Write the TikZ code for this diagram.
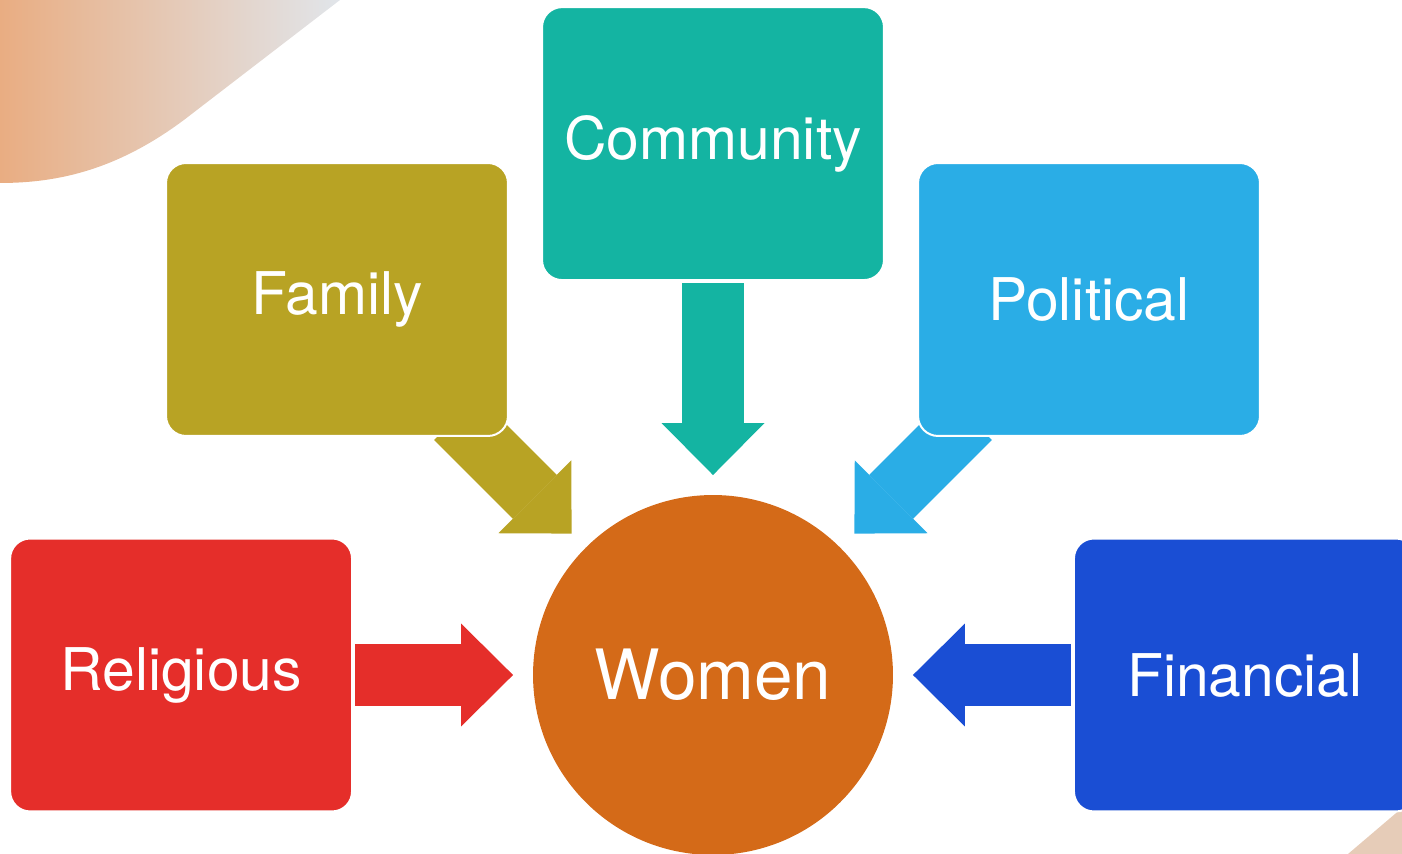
\documentclass[tikz,border=0pt]{standalone}
\usepackage{fontspec}
\setmainfont{TeX Gyre Heros}
\usepackage{tikz}
\usetikzlibrary{arrows.meta,positioning,backgrounds,calc}
\definecolor{PillarOlive}{HTML}{B8A324}
\definecolor{PillarTeal}{HTML}{14B4A2}
\definecolor{PillarSky}{HTML}{2AADE6}
\definecolor{PillarRed}{HTML}{E52E2A}
\definecolor{PillarBlue}{HTML}{1A4ED4}
\definecolor{WomenOrange}{HTML}{D46A18}
\definecolor{DecoPeach}{HTML}{E9AD82}
\definecolor{DecoMist}{HTML}{E1E5EA}
\definecolor{DecoSand}{HTML}{E6CCB8}
\tikzset{
  pillarbox/.style={draw=white,line width=0.04cm,rounded corners=0.4cm,minimum width=6.84cm,minimum height=5.46cm,outer sep=0pt,text=white,font=\fontsize{33.5}{40}\selectfont},
  womencircle/.style={circle,fill=WomenOrange,minimum size=7.2cm,inner sep=0pt,outer sep=0pt,text=white,font=\fontsize{39.5}{46}\selectfont},
  blockarrow/.style={line width=1.24cm,-{Triangle[length=1.04cm,width=2.06cm,line width=0pt]},shorten <=0.06cm,shorten >=0.4cm}
}

\begin{document}
\begin{tikzpicture}[x=0.02cm,y=0.02cm,node distance=3.62cm]
  \useasboundingbox (0,0) rectangle (1402,854);
  \shade[left color=DecoPeach,right color=DecoMist] (0,854) -- (340,854) -- (193,741)
    .. controls (122,685) and (60,671) .. (0,671) -- cycle;
  \fill[DecoSand] (1348,0) -- (1402,46) -- (1402,0) -- cycle;

  \node[womencircle] (women) at (713,179) {Women};
  \node[pillarbox,fill=PillarTeal,above=4.3cm of women] (comm) {Community};
  \node[pillarbox,fill=PillarRed,left=of women] (rel) {Religious};
  \node[pillarbox,fill=PillarBlue,right=of women] (fin) {Financial};
  \node[pillarbox,fill=PillarOlive] (fam) at (337,554.5) {Family};
  \node[pillarbox,fill=PillarSky] (pol) at (1089,554.5) {Political};
  \coordinate (famtail) at ($(women)+(-259,259)$);
  \coordinate (poltail) at ($(women)+(259,259)$);

  \begin{scope}[on background layer]
    \draw[blockarrow,draw=PillarTeal] (comm) -- (women);
    \draw[blockarrow,draw=PillarRed] (rel) -- (women);
    \draw[blockarrow,draw=PillarBlue] (fin) -- (women);
    \draw[blockarrow,draw=PillarOlive] (famtail) -- (women);
    \draw[blockarrow,draw=PillarSky] (poltail) -- (women);
  \end{scope}
\end{tikzpicture}
\end{document}
